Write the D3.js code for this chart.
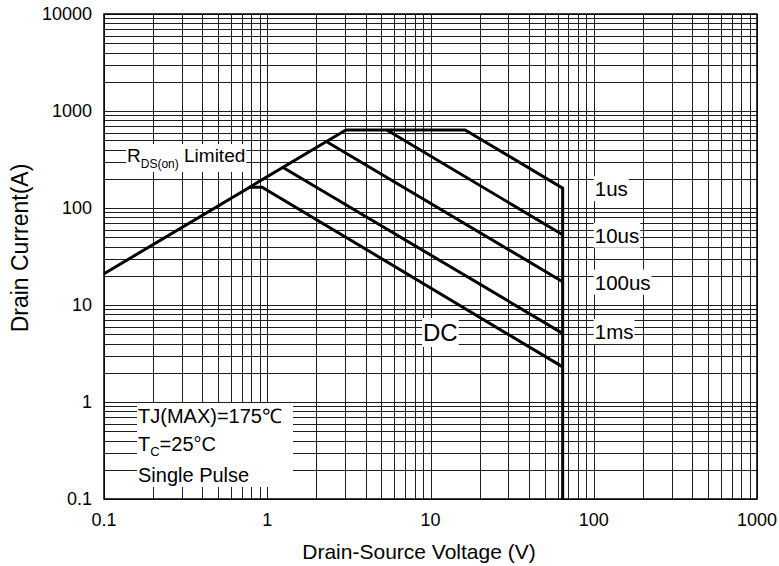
<!DOCTYPE html>
<html>
<head>
<meta charset="utf-8">
<script src="https://cdn.jsdelivr.net/npm/d3@7"></script>
<style>
  body { margin: 0; background: #fff; }
  svg { display: block; font-family: "Liberation Sans", Arial, sans-serif; }
</style>
</head>
<body>
<svg id="chart" width="779" height="566"></svg>
<script>
// Axis ticks
const xTicks = [0.1, 1, 10, 100, 1000]
const yTicks = [0.1, 1, 10, 100, 1000, 10000]

// SOA boundary lines (V, A)
const rdsLimit = [[0.1, 21], [3.03, 637]]
const pulse1us = [[3.03, 637], [16.3, 637], [64.5, 160], [64.5, 0.1]]
const pulse10us = [[5.4, 637], [64.5, 53]]
const pulse100us = [[2.3, 485], [64.5, 17.4]]
const pulse1ms = [[1.25, 262], [64.5, 5.1]]
const dcLine = [[0.78, 164], [0.93, 164], [64.5, 2.3]]

// Curve labels [text, V, A]
const curveLabels = [
  ['1us', 100, 160],
  ['10us', 100, 53],
  ['100us', 100, 17.4],
  ['1ms', 100, 5.4],
]

const svg = d3.select('#chart')
const pL = 104, pR = 757, pT = 14, pB = 499

const x = d3.scaleLog().domain([0.1, 1000]).range([pL, pR])
const y = d3.scaleLog().domain([0.1, 10000]).range([pB, pT])

// Log grid values 1..9 per decade
const gridVals = (lo, hi) => {
  const out = []
  for (let e = Math.round(Math.log10(lo)); e < Math.round(Math.log10(hi)); e++) {
    for (let k = 1; k <= 9; k++) out.push(k * Math.pow(10, e))
  }
  out.push(hi)
  return out
}

const grid = svg.append('g').attr('stroke', '#1e1e1e').attr('stroke-width', 1).attr('shape-rendering', 'crispEdges')
grid.selectAll('.gx').data(gridVals(0.1, 1000)).join('line')
  .attr('x1', d => Math.round(x(d)) + 0.5).attr('x2', d => Math.round(x(d)) + 0.5)
  .attr('y1', pT).attr('y2', pB)
grid.selectAll('.gy').data(gridVals(0.1, 10000)).join('line')
  .attr('y1', d => Math.round(y(d)) + 0.5).attr('y2', d => Math.round(y(d)) + 0.5)
  .attr('x1', pL).attr('x2', pR)

// Border
svg.append('rect')
  .attr('x', pL).attr('y', pT)
  .attr('width', pR - pL).attr('height', pB - pT)
  .attr('fill', 'none').attr('stroke', '#000').attr('stroke-width', 1.5)

// Data lines
const line = d3.line().x(d => x(d[0])).y(d => y(d[1]))
const lines = [rdsLimit, pulse1us, pulse10us, pulse100us, pulse1ms, dcLine]
svg.append('g').selectAll('path').data(lines).join('path')
  .attr('d', line)
  .attr('fill', 'none')
  .attr('stroke', '#000')
  .attr('stroke-width', 3)
  .attr('stroke-linejoin', 'miter')

// Tick labels
svg.append('g').selectAll('text').data(yTicks).join('text')
  .attr('x', 92).attr('y', d => y(d) + 6)
  .attr('text-anchor', 'end')
  .attr('font-size', 18)
  .text(d => d)

svg.append('g').selectAll('text').data(xTicks).join('text')
  .attr('x', d => x(d)).attr('y', 526)
  .attr('text-anchor', 'middle')
  .attr('font-size', 18)
  .text(d => d)

// Axis titles
svg.append('text')
  .attr('x', 419).attr('y', 559)
  .attr('text-anchor', 'middle')
  .attr('font-size', 21)
  .text('Drain-Source Voltage (V)')

svg.append('text')
  .attr('transform', 'translate(28,248) rotate(-90)')
  .attr('text-anchor', 'middle')
  .attr('font-size', 23)
  .text('Drain Current(A)')

// Label with a white box behind it
const boxed = (g, pad) => {
  const b = g.node().getBBox()
  g.insert('rect', ':first-child')
    .attr('x', b.x - pad).attr('y', b.y - pad)
    .attr('width', b.width + pad * 2).attr('height', b.height + pad * 2)
    .attr('fill', '#fff')
}

curveLabels.forEach(([t, v, a]) => {
  const g = svg.append('g')
  g.append('text')
    .attr('x', x(v) + 1).attr('y', y(a) + 8)
    .attr('font-size', 20.5)
    .text(t)
  boxed(g, 1)
})

const dc = svg.append('g')
dc.append('text').attr('x', 423).attr('y', 341).attr('font-size', 24).text('DC')
boxed(dc, 1)

const rds = svg.append('g')
const rt = rds.append('text').attr('x', 127).attr('y', 162).attr('font-size', 19)
rt.append('tspan').text('R')
rt.append('tspan').attr('font-size', 12).attr('dy', 6).text('DS(on)')
rt.append('tspan').attr('dy', -6).text(' Limited')
boxed(rds, 1)

const cond = svg.append('g')
cond.append('rect')
  .attr('x', 137).attr('y', 403).attr('width', 156).attr('height', 84)
  .attr('fill', '#fff')
cond.append('text').attr('x', 138).attr('y', 423).attr('font-size', 20)
  .text('TJ(MAX)=175\u2103')
const tc = cond.append('text').attr('x', 138).attr('y', 451).attr('font-size', 20)
tc.append('tspan').text('T')
tc.append('tspan').attr('font-size', 13).attr('dy', 5).text('C')
tc.append('tspan').attr('dy', -5).text('=25°C')
cond.append('text').attr('x', 138).attr('y', 482).attr('font-size', 20)
  .text('Single Pulse')
</script>
</body>
</html>
